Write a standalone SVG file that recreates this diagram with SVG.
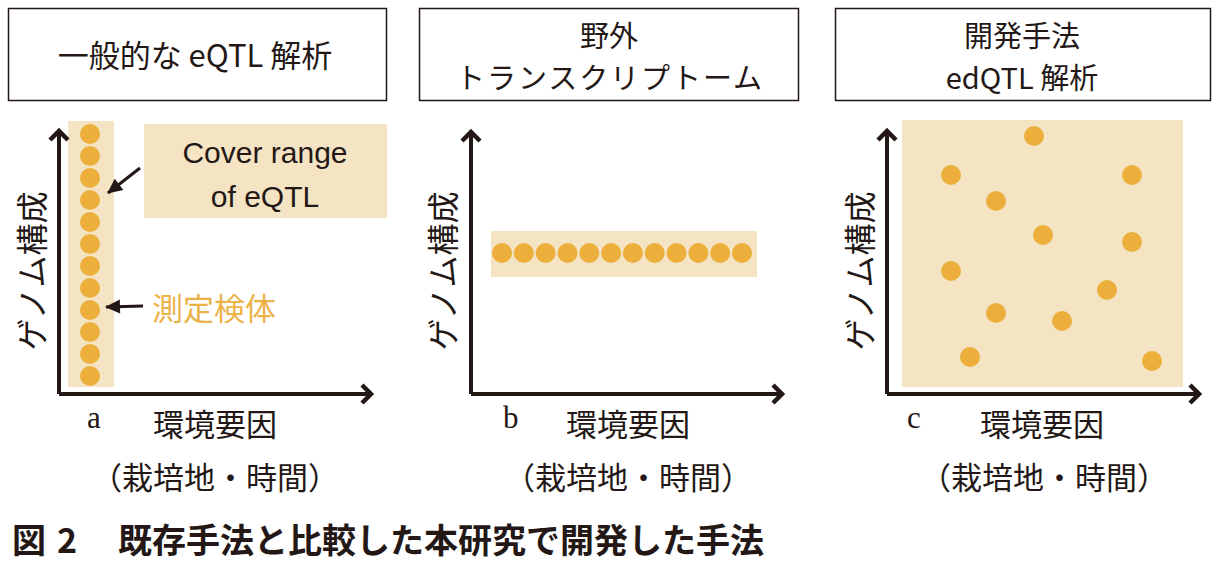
<svg xmlns="http://www.w3.org/2000/svg" width="1222" height="563" viewBox="0 0 1222 563">
<defs>
<style>
.box{fill:#fff;stroke:#231815;stroke-width:1.5}
.band{fill:#f4e4c4}
.dot{fill:#ecaf3b}
.axis{fill:none;stroke:#231815;stroke-width:4}
.ann{fill:none;stroke:#231815;stroke-width:3}
.jp{font-family:"Noto Sans CJK JP","Noto Sans",sans-serif;fill:#231815}
.title{font-size:31px;text-anchor:middle}
.title2{font-size:29px;text-anchor:middle}
.ylab{font-size:32px;text-anchor:middle;dominant-baseline:central}
.xlab{font-size:31px;text-anchor:middle}
.letter{font-family:"Liberation Serif",serif;font-size:31px;fill:#231815}
.en{font-family:"Liberation Sans",Arial,sans-serif;font-size:30px;fill:#231815;text-anchor:middle}
</style>
<marker id="axhead" markerUnits="userSpaceOnUse" markerWidth="24" markerHeight="24" refX="12" refY="12" orient="auto" overflow="visible">
<path d="M3,3 L12,12 L3,21" fill="none" stroke="#231815" stroke-width="4.5"/>
</marker>
<marker id="annhead" markerUnits="userSpaceOnUse" markerWidth="16" markerHeight="16" refX="14" refY="8" orient="auto" overflow="visible">
<path d="M0,1 L15,8 L0,15 Z" fill="#231815"/>
</marker>
</defs>

<g id="panel-a">
<g id="title-a">
<rect class="box" x="8.5" y="8.5" width="378" height="92"/>
<text class="jp title" x="195" y="67">一般的な eQTL 解析</text>
</g>
<rect class="band" x="68" y="121" width="46" height="266"/>
<g id="dots-a">
<circle class="dot" cx="90" cy="134" r="10"/>
<circle class="dot" cx="90" cy="156" r="10"/>
<circle class="dot" cx="90" cy="178" r="10"/>
<circle class="dot" cx="90" cy="200" r="10"/>
<circle class="dot" cx="90" cy="222" r="10"/>
<circle class="dot" cx="90" cy="244" r="10"/>
<circle class="dot" cx="90" cy="266" r="10"/>
<circle class="dot" cx="90" cy="288" r="10"/>
<circle class="dot" cx="90" cy="310" r="10"/>
<circle class="dot" cx="90" cy="332" r="10"/>
<circle class="dot" cx="90" cy="354" r="10"/>
<circle class="dot" cx="90" cy="376" r="10"/>
</g>
<g id="cover-range">
<rect class="band" x="144" y="124" width="243" height="94"/>
<text class="en" x="265" y="163">Cover range</text>
<text class="en" x="265" y="207">of eQTL</text>
</g>
<text class="jp" x="152" y="320" font-size="31" style="fill:#ebb247">測定検体</text>
<text class="jp ylab" transform="translate(30,271) rotate(-90)">ゲノム構成</text>
<text class="letter" x="87" y="428">a</text>
<text class="jp xlab" x="215" y="436">環境要因</text>
<text class="jp xlab" x="215" y="489" font-size="30">（栽培地・時間）</text>
</g>

<g id="panel-b">
<g id="title-b">
<rect class="box" x="419.5" y="8.5" width="379" height="92"/>
<text class="jp title2" x="609" y="47">野外</text>
<text class="jp title2" x="609" y="89" textLength="306" lengthAdjust="spacing">トランスクリプトーム</text>
</g>
<rect class="band" x="491" y="231" width="266" height="46"/>
<g id="dots-b">
<circle class="dot" cx="502" cy="253" r="10"/>
<circle class="dot" cx="523.8" cy="253" r="10"/>
<circle class="dot" cx="545.6" cy="253" r="10"/>
<circle class="dot" cx="567.5" cy="253" r="10"/>
<circle class="dot" cx="589.3" cy="253" r="10"/>
<circle class="dot" cx="611.1" cy="253" r="10"/>
<circle class="dot" cx="632.9" cy="253" r="10"/>
<circle class="dot" cx="654.7" cy="253" r="10"/>
<circle class="dot" cx="676.5" cy="253" r="10"/>
<circle class="dot" cx="698.4" cy="253" r="10"/>
<circle class="dot" cx="720.2" cy="253" r="10"/>
<circle class="dot" cx="742" cy="253" r="10"/>
</g>
<text class="jp ylab" transform="translate(441,271) rotate(-90)">ゲノム構成</text>
<text class="letter" x="503" y="428">b</text>
<text class="jp xlab" x="628" y="436">環境要因</text>
<text class="jp xlab" x="628" y="489" font-size="30">（栽培地・時間）</text>
</g>

<g id="panel-c">
<g id="title-c">
<rect class="box" x="835.5" y="8.5" width="375" height="92"/>
<text class="jp title2" x="1022" y="47">開発手法</text>
<text class="jp title2" x="1022" y="89">edQTL 解析</text>
</g>
<rect class="band" x="902" y="120" width="281" height="267"/>
<g id="dots-c">
<circle class="dot" cx="1034" cy="136" r="10"/>
<circle class="dot" cx="951" cy="175" r="10"/>
<circle class="dot" cx="1132" cy="175" r="10"/>
<circle class="dot" cx="996" cy="201" r="10"/>
<circle class="dot" cx="1043" cy="235" r="10"/>
<circle class="dot" cx="1132" cy="242" r="10"/>
<circle class="dot" cx="951" cy="271" r="10"/>
<circle class="dot" cx="1107" cy="290" r="10"/>
<circle class="dot" cx="996" cy="313" r="10"/>
<circle class="dot" cx="1062" cy="321" r="10"/>
<circle class="dot" cx="970" cy="357" r="10"/>
<circle class="dot" cx="1152" cy="361" r="10"/>
</g>
<text class="jp ylab" transform="translate(858,271) rotate(-90)">ゲノム構成</text>
<text class="letter" x="907" y="428">c</text>
<text class="jp xlab" x="1042" y="436">環境要因</text>
<text class="jp xlab" x="1044" y="489" font-size="30">（栽培地・時間）</text>
</g>

<g id="connectors">
<line class="axis" x1="59" y1="394" x2="371" y2="394" marker-end="url(#axhead)"/>
<line class="axis" x1="59" y1="394" x2="59" y2="131" marker-end="url(#axhead)"/>
<line class="axis" x1="471" y1="394" x2="782" y2="394" marker-end="url(#axhead)"/>
<line class="axis" x1="471" y1="394" x2="471" y2="132" marker-end="url(#axhead)"/>
<line class="axis" x1="887" y1="394" x2="1199" y2="394" marker-end="url(#axhead)"/>
<line class="axis" x1="887" y1="394" x2="887" y2="131" marker-end="url(#axhead)"/>
<line class="ann" x1="140" y1="168" x2="108" y2="193" marker-end="url(#annhead)"/>
<line class="ann" x1="143" y1="306" x2="106" y2="307" marker-end="url(#annhead)"/>
</g>

<text id="caption" class="jp" y="553" font-size="34" font-weight="bold"><tspan x="12">図</tspan><tspan x="57">2</tspan><tspan x="118">既存手法と比較した本研究で開発した手法</tspan></text>
</svg>
